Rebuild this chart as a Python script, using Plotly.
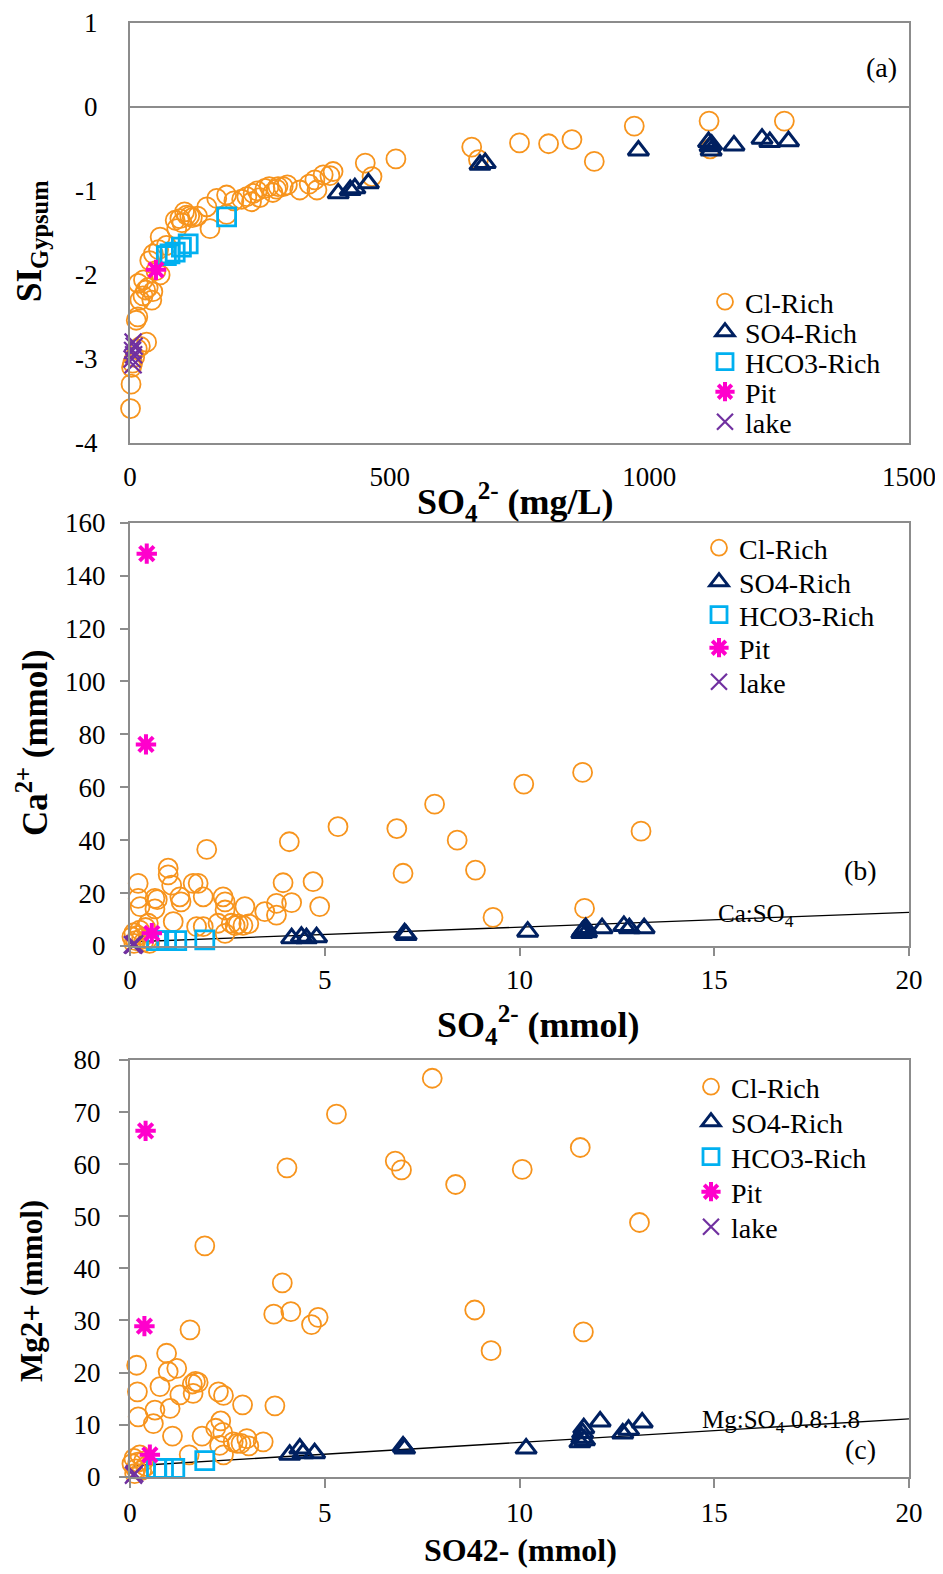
import plotly.graph_objects as go

# page body has an 8px margin: the figure is drawn 8px in from the window's corner
OFF = 8
W, H = 933, 1562
FONT = "Liberation Serif"
GRAY = "#8c8c8c"


def fx(px):
    return (px - OFF) / W


def fy(py):
    return 1 - (py - OFF) / H


# ---------------- Panel (a): SI gypsum vs SO4 (mg/L) ----------------
a_cl_so4 = [1, 2, 3, 9, 5, 14, 20, 32, 12, 15, 19, 25, 42, 30, 16, 26, 44, 35, 58, 50,
            38, 45, 70, 58, 55, 87, 96, 109, 100, 120, 105, 115, 90, 130, 154, 148, 167,
            186, 186, 200, 215, 225, 234, 237, 245, 250, 260, 268, 275, 282, 285, 295,
            303, 327, 345, 356, 360, 372, 385, 391, 453, 466, 512, 658, 671, 750, 806,
            851, 894, 971, 1115, 1117, 1260]
a_cl_si = [-3.59, -3.30, -3.10, -2.98, -3.05, -2.88, -2.85, -2.80, -2.54, -2.50, -2.30,
           -2.25, -2.30, -2.18, -2.10, -2.06, -2.20, -2.15, -2.00, -1.95, -1.83, -1.75,
           -1.65, -1.55, -1.70, -1.35, -1.33, -1.29, -1.38, -1.32, -1.25, -1.30, -1.45,
           -1.30, -1.45, -1.19, -1.09, -1.05, -1.28, -1.12, -1.10, -1.07, -1.13, -1.03,
           -1.00, -1.08, -0.97, -0.95, -1.02, -0.98, -0.95, -0.95, -0.93, -0.99, -0.92,
           -0.87, -0.99, -0.81, -0.82, -0.77, -0.67, -0.83, -0.62, -0.48, -0.63, -0.43,
           -0.44, -0.39, -0.65, -0.23, -0.17, -0.50, -0.17]
a_so4r_so4 = [401, 424, 433, 459, 674, 684, 979, 1114, 1117, 1119, 1120, 1163, 1217, 1232, 1268]
a_so4r_si = [-1.03, -0.99, -0.97, -0.91, -0.69, -0.67, -0.52, -0.42, -0.47, -0.52, -0.45,
             -0.46, -0.38, -0.42, -0.41]
a_hco3_so4 = [186, 112, 99, 87, 77, 70]
a_hco3_si = [-1.31, -1.63, -1.67, -1.73, -1.75, -1.77]
a_pit_so4 = [50]
a_pit_si = [-1.94]
a_lake_so4 = [6, 8, 5, 7, 4, 6]
a_lake_si = [-2.80, -2.85, -2.90, -2.95, -3.00, -3.07]

# ---------------- Panel (b): Ca vs SO4 (mmol) ----------------
b_cl_so4 = [0.05, 0.10, 0.15, 0.20, 0.25, 0.30, 0.35, 0.40, 0.45, 0.10, 0.50,
            0.21, 0.21, 0.26, 0.64, 0.70, 0.64, 0.47, 0.98, 0.98, 1.07, 1.28, 1.31, 1.11,
            1.62, 1.75, 1.88, 1.97, 1.71, 1.88, 2.39, 2.44, 2.44, 2.26, 2.44, 2.60, 2.70,
            2.78, 2.90, 3.05, 2.95, 3.46, 3.76, 3.76, 3.93, 4.09, 4.15, 4.70, 4.87, 5.34,
            6.85, 7.01, 7.82, 8.40, 8.87, 9.32, 10.11, 11.62, 11.67, 13.12]
b_cl_ca = [3.5, 5.0, 2.0, 4.0, 6.0, 3.0, 1.5, 7.0, 2.5, 1.0, 1.0,
           23.7, 18.0, 14.9, 18.0, 17.5, 14.0, 8.6, 29.4, 26.9, 23.0, 18.6, 16.7, 9.2,
           23.7, 23.7, 18.6, 36.5, 7.3, 7.3, 18.6, 16.7, 13.6, 8.6, 4.8, 8.6, 7.7,
           8.3, 7.8, 8.4, 14.9, 13.0, 16.1, 11.7, 23.9, 39.4, 16.4, 24.3, 14.9, 45.1,
           44.4, 27.5, 53.6, 40.0, 28.7, 10.8, 61.2, 65.6, 14.2, 43.4]
b_so4r_so4 = [4.15, 4.40, 4.53, 4.79, 7.05, 7.09, 10.21, 11.60, 11.65, 11.70, 11.62, 11.72,
              12.12, 12.68, 12.82, 13.20]
b_so4r_ca = [2.9, 3.5, 2.9, 3.3, 4.8, 4.2, 5.4, 4.9, 6.0, 6.8, 5.5, 5.2, 6.7, 7.6, 6.7, 6.7]
b_hco3_so4 = [0.68, 0.94, 1.20, 1.92]
b_hco3_ca = [2.0, 2.0, 2.0, 2.3]
b_pit_so4 = [0.43, 0.41, 0.56]
b_pit_ca = [148.3, 76.2, 4.8]
b_lake_so4 = [0.09, 0.12, 0.06]
b_lake_ca = [0.3, 0.8, 0.5]
b_line_so4 = [0.1, 20]
b_line_ca = [1.6, 12.7]

# ---------------- Panel (c): Mg vs SO4 (mmol) ----------------
c_cl_so4 = [0.05, 0.10, 0.15, 0.20, 0.25, 0.30, 0.35, 0.12, 0.40,
            0.17, 0.19, 0.21, 0.60, 0.64, 0.77, 0.94, 0.98, 1.20, 1.03, 1.28, 1.09, 1.54,
            1.60, 1.68, 1.75, 1.62, 1.52, 1.85, 1.92, 2.27, 2.40, 2.20, 2.33, 2.38, 2.30,
            2.40, 2.65, 2.75, 2.85, 3.00, 3.05, 2.89, 3.42, 3.72, 3.69, 3.91, 4.03, 4.13,
            4.66, 4.83, 5.30, 6.81, 6.97, 7.76, 8.36, 8.85, 9.27, 10.07, 11.56, 11.64, 13.08]
c_cl_mg = [2.5, 3.5, 1.5, 2.8, 4.2, 1.2, 3.0, 0.6, 2.0,
           21.4, 16.3, 11.5, 10.2, 12.8, 17.3, 23.7, 20.2, 20.8, 13.1, 15.7, 7.8, 28.2,
           17.8, 18.3, 18.1, 16.0, 4.2, 7.8, 44.3, 16.3, 15.6, 9.3, 10.7, 8.5, 6.0,
           4.2, 6.7, 6.4, 6.4, 7.3, 5.9, 13.8, 6.7, 13.6, 31.2, 37.2, 59.3, 31.7,
           29.2, 30.6, 69.6, 60.6, 58.9, 76.5, 56.1, 32.0, 24.2, 59.0, 63.2, 27.8, 48.8]
c_so4r_so4 = [4.10, 4.36, 4.44, 4.74, 7.01, 7.05, 10.17, 11.55, 11.60, 11.62, 11.65, 11.67,
              12.07, 12.65, 12.80, 13.15]
c_so4r_mg = [4.2, 5.4, 4.5, 4.5, 5.8, 5.4, 5.4, 6.6, 7.5, 8.4, 9.3, 7.0, 10.6, 8.3, 9.0, 10.4]
c_hco3_so4 = [0.68, 0.86, 1.15, 1.92]
c_hco3_mg = [1.6, 1.6, 1.6, 3.1]
c_pit_so4 = [0.40, 0.37, 0.51]
c_pit_mg = [66.4, 28.9, 4.2]
c_lake_so4 = [0.09, 0.12]
c_lake_mg = [0.3, 0.6]
c_line_so4 = [0.1, 20]
c_line_mg = [2.1, 11.1]

categories = ["Cl-Rich", "SO4-Rich", "HCO3-Rich", "Pit", "lake"]
x_ticks_a = [0, 500, 1000, 1500]
y_ticks_a = [1, 0, -1, -2, -3, -4]
y_ticktext_a = ["1", "0", "-1", "-2", "-3", "-4"]
x_ticks_bc = [0, 5, 10, 15, 20]
y_ticks_b = [0, 20, 40, 60, 80, 100, 120, 140, 160]
y_ticks_c = [0, 10, 20, 30, 40, 50, 60, 70, 80]

styles = {
    "Cl-Rich": dict(symbol="circle-open", color="#F7941D", size=19, line=dict(width=1.8, color="#F7941D")),
    "SO4-Rich": dict(symbol="triangle-up-open", color="#002060", size=18, line=dict(width=3, color="#002060")),
    "HCO3-Rich": dict(symbol="square-open", color="#00B0F0", size=18, line=dict(width=2.8, color="#00B0F0")),
    "Pit": dict(symbol="asterisk-open", color="#FF00CC", size=17, line=dict(width=4, color="#FF00CC")),
    "lake": dict(symbol="x-thin-open", color="#7030A0", size=17, line=dict(width=2.2, color="#7030A0")),
}

panels = [
    ("x", "y", [(a_cl_so4, a_cl_si), (a_so4r_so4, a_so4r_si), (a_hco3_so4, a_hco3_si),
                (a_pit_so4, a_pit_si), (a_lake_so4, a_lake_si)]),
    ("x2", "y2", [(b_cl_so4, b_cl_ca), (b_so4r_so4, b_so4r_ca), (b_hco3_so4, b_hco3_ca),
                  (b_pit_so4, b_pit_ca), (b_lake_so4, b_lake_ca)]),
    ("x3", "y3", [(c_cl_so4, c_cl_mg), (c_so4r_so4, c_so4r_mg), (c_hco3_so4, c_hco3_mg),
                  (c_pit_so4, c_pit_mg), (c_lake_so4, c_lake_mg)]),
]

# legend placements (pixel): text start x, row centre y
legend_text_x = [743, 737, 729]
legend_rows = [[302, 332, 362, 392, 422],
               [548, 582, 615, 648, 682],
               [1087, 1122, 1157, 1192, 1227]]

fig = go.Figure()

fig.add_trace(go.Scatter(x=b_line_so4, y=b_line_ca, mode="lines", xaxis="x2", yaxis="y2",
                         line=dict(color="black", width=1.3), showlegend=False, hoverinfo="skip"))
fig.add_trace(go.Scatter(x=c_line_so4, y=c_line_mg, mode="lines", xaxis="x3", yaxis="y3",
                         line=dict(color="black", width=1.3), showlegend=False, hoverinfo="skip"))

legend_layouts = {}
for pi, (xa, ya, series) in enumerate(panels):
    for ci, (cat, (xs, ys)) in enumerate(zip(categories, series)):
        n = pi * 5 + ci + 1
        lname = "legend" if n == 1 else f"legend{n}"
        fig.add_trace(go.Scatter(x=xs, y=ys, mode="markers", name=cat, xaxis=xa, yaxis=ya,
                                 marker=styles[cat], cliponaxis=False, legend=lname))
        legend_layouts[lname] = dict(
            x=fx(legend_text_x[pi] - 38), xanchor="left",
            y=fy(legend_rows[pi][ci]), yanchor="middle",
            bgcolor="rgba(0,0,0,0)", borderwidth=0,
            font=dict(family=FONT, size=28, color="black"),
        )

tickfont = dict(family=FONT, size=27, color="black")
xdom = [fx(130), fx(909)]


def ydom(top, bottom):
    return [fy(bottom), fy(top)]


common = dict(showline=True, linecolor=GRAY, linewidth=2, mirror=True, showgrid=False,
              tickfont=tickfont, automargin=False, ticklabeloverflow="allow")

fig.update_layout(
    width=W, height=H,
    margin=dict(l=0, r=0, t=0, b=0, autoexpand=False),
    paper_bgcolor="white", plot_bgcolor="white",
    font=dict(family=FONT, color="black"),
    xaxis=dict(domain=xdom, anchor="y", range=[0, 1500], tickvals=x_ticks_a, ticks="",
               zeroline=False, ticklabelstandoff=9, **common),
    yaxis=dict(domain=ydom(22.7, 443), anchor="x", range=[-4, 1], tickvals=y_ticks_a,
               ticktext=y_ticktext_a, ticks="", zeroline=True, zerolinecolor=GRAY,
               zerolinewidth=2, ticklabelstandoff=25, **common),
    xaxis2=dict(domain=xdom, anchor="y2", range=[0, 20], tickvals=x_ticks_bc, ticks="outside",
                ticklen=8, tickwidth=2, tickcolor=GRAY, zeroline=False, ticklabelstandoff=1, **common),
    yaxis2=dict(domain=ydom(522.7, 946), anchor="x2", range=[0, 160], tickvals=y_ticks_b,
                ticks="outside", ticklen=8, tickwidth=2, tickcolor=GRAY, zeroline=False,
                ticklabelstandoff=9, **common),
    xaxis3=dict(domain=xdom, anchor="y3", range=[0, 20], tickvals=x_ticks_bc, ticks="outside",
                ticklen=9, tickwidth=2, tickcolor=GRAY, zeroline=False, ticklabelstandoff=2, **common),
    yaxis3=dict(domain=ydom(1060, 1476.7), anchor="x3", range=[0, 80], tickvals=y_ticks_c,
                ticks="outside", ticklen=9, tickwidth=2, tickcolor=GRAY, zeroline=False,
                ticklabelstandoff=13, **common),
    **legend_layouts,
)


def ann(text, px, py, size, bold=False, angle=0):
    fig.add_annotation(text=(f"<b>{text}</b>" if bold else text), x=fx(px), y=fy(py),
                       xref="paper", yref="paper", showarrow=False, xanchor="center",
                       yanchor="middle", textangle=angle,
                       font=dict(family=FONT, size=size, color="black"))


ann("(a)", 881, 68, 28)
ann("(b)", 860, 870, 28)
ann("(c)", 860, 1449, 28)
ann("Ca:SO<sub>4</sub>", 756, 915, 25)
ann("Mg:SO<sub>4</sub> 0.8:1.8", 781, 1421, 25)

ann("SO<sub>4</sub><sup>2-</sup> (mg/L)", 515, 502, 36, bold=True)
ann("SI<sub>Gypsum</sub>", 32, 241, 35, bold=True, angle=-90)
ann("SO<sub>4</sub><sup>2-</sup> (mmol)", 538, 1025, 36, bold=True)
ann("Ca<sup>2+</sup> (mmol)", 32, 743, 35, bold=True, angle=-90)
ann("SO42- (mmol)", 520, 1550, 32, bold=True)
ann("Mg2+ (mmol)", 31, 1291, 31, bold=True, angle=-90)

fig.write_html("out.html")
